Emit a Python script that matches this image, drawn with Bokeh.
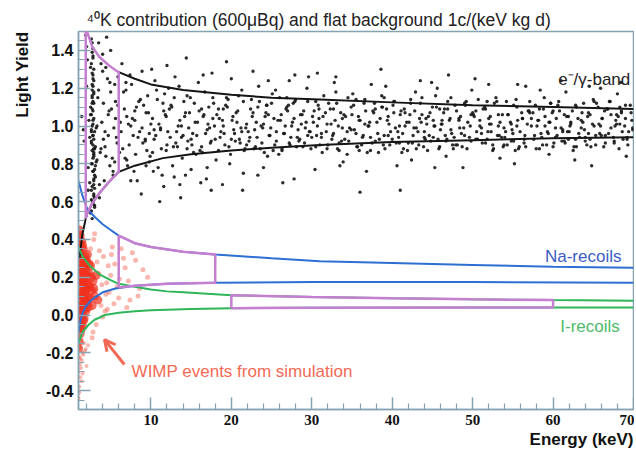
from bokeh.plotting import figure
from bokeh.models import Range1d, FixedTicker, PrintfTickFormatter, Label, Arrow, OpenHead, Title
from bokeh.embed import file_html
from bokeh.resources import INLINE

# ---------------- data ----------------
x_ticks = [10, 20, 30, 40, 50, 60, 70]
x_minor = [2, 4, 6, 8, 12, 14, 16, 18, 22, 24, 26, 28, 32, 34, 36, 38, 42, 44, 46, 48,
           52, 54, 56, 58, 62, 64, 66, 68]
y_ticks = [-0.4, -0.2, 0.0, 0.2, 0.4, 0.6, 0.8, 1.0, 1.2, 1.4]
y_minor = [-0.45, -0.35, -0.3, -0.25, -0.15, -0.1, -0.05, 0.05, 0.1, 0.15, 0.25, 0.3, 0.35,
           0.45, 0.5, 0.55, 0.65, 0.7, 0.75, 0.85, 0.9, 0.95, 1.05, 1.1, 1.15, 1.25, 1.3,
           1.35, 1.45]

# black points: 3 keV line (40K)
streak_x = [2.6, 2.8, 2.9, 2.7, 3.0, 2.5, 2.8, 2.9, 2.6, 3.1, 2.7, 2.9, 2.8, 2.4, 3.0, 2.8, 2.7, 2.9, 2.6, 3.2,
            2.8, 2.9, 2.7, 2.5, 3.0, 2.8, 2.6, 2.9, 2.7, 3.1, 2.8, 2.4, 2.9, 2.7, 3.0, 2.6, 2.8, 2.9, 2.5, 3.3,
            2.7, 2.9, 2.8, 2.6, 3.0, 2.3, 2.8, 2.9, 2.7, 3.1, 2.6, 2.8, 3.0, 2.7, 2.9, 2.5, 2.8, 3.2, 2.6, 2.9,
            2.7, 2.8, 2.9, 2.6, 2.8, 3.0, 2.7, 2.9, 2.8, 2.6, 2.9, 2.7, 2.8, 3.0, 2.7, 2.8, 2.9, 2.6, 2.8, 2.7]
streak_y = [0.55, 0.83, 1.12, 0.68, 0.97, 1.31, 0.76, 1.04, 0.61, 0.89, 1.22, 0.72, 1.41, 0.94, 0.58, 1.08, 0.80, 1.17, 0.66, 0.99,
            1.27, 0.86, 0.51, 1.06, 0.74, 1.36, 0.92, 0.63, 1.15, 0.79, 1.01, 0.70, 1.24, 0.87, 0.57, 1.46, 0.95, 0.69, 1.10, 0.82,
            1.19, 0.64, 0.90, 1.33, 0.77, 1.03, 0.60, 0.85, 1.28, 0.73, 0.98, 1.13, 0.67, 1.39, 0.88, 0.54, 1.21, 0.81, 1.06, 0.93,
            1.00, 0.76, 1.18, 0.91, 1.37, 0.62, 1.09, 0.84, 1.25, 0.97, 0.71, 1.44, 1.03, 0.88, 1.16, 0.59, 1.30, 0.80, 0.95, 1.12]

# black points: low energy
low_x = [1.4, 1.7, 2.0, 2.2, 3.5, 3.8, 4.1, 4.4, 4.7, 5.0, 5.3, 5.6, 5.9, 3.6, 4.0, 4.3, 4.8, 5.2, 5.5, 5.8,
         3.4, 3.9, 4.5, 4.9, 5.4, 2.1, 1.9, 3.7, 4.2, 4.6, 5.1, 5.7, 3.3, 4.0, 4.4, 5.0, 5.6, 1.6, 2.2, 3.5,
         4.1, 4.7, 5.3, 5.9, 3.8, 4.3, 4.9, 5.5, 2.0, 3.6]
low_y = [1.05, 0.92, 1.21, 0.78, 1.44, 0.88, 1.12, 1.31, 0.95, 1.18, 0.74, 1.04, 1.26, 0.69, 1.38, 0.97, 1.08, 0.83, 1.22, 0.91,
         1.15, 1.02, 1.47, 0.79, 0.99, 1.35, 1.48, 0.86, 0.71, 1.25, 1.09, 0.94, 1.00, 1.29, 0.84, 1.40, 1.13, 0.98, 0.66, 1.19,
         0.93, 1.06, 0.76, 1.11, 1.33, 0.89, 1.23, 0.81, 1.42, 0.62]

# black points: e/gamma band 6-70 keV (wide)
band_x = [6.2, 6.5, 6.9, 7.1, 7.4, 7.8, 8.0, 8.3, 8.7, 9.0, 6.4, 6.8, 7.2, 7.6, 7.9, 8.2, 8.6, 8.9, 6.1, 7.0,
          9.3, 9.6, 9.9, 10.2, 10.5, 10.9, 11.2, 11.5, 11.9, 12.2, 9.4, 9.8, 10.1, 10.6, 11.0, 11.4, 11.7, 12.0, 12.3, 10.4,
          12.5, 12.8, 13.2, 13.5, 13.9, 14.2, 14.6, 14.9, 15.3, 15.5, 12.7, 13.0, 13.4, 13.8, 14.1, 14.5, 14.8, 15.2, 13.6, 14.4,
          15.7, 16.0, 16.4, 16.7, 17.1, 17.4, 17.8, 18.1, 18.5, 18.7, 15.9, 16.3, 16.6, 17.0, 17.3, 17.7, 18.0, 18.4, 16.9, 17.6,
          18.9, 19.2, 19.6, 19.9, 20.3, 20.6, 21.0, 21.3, 21.7, 21.9, 19.1, 19.5, 19.8, 20.2, 20.5, 20.9, 21.2, 21.6, 20.0, 21.4,
          22.1, 22.4, 22.8, 23.1, 23.5, 23.8, 24.2, 24.5, 24.9, 25.1, 22.3, 22.7, 23.0, 23.4, 23.7, 24.1, 24.4, 24.8, 23.3, 24.6,
          25.3, 25.6, 26.0, 26.3, 26.7, 27.0, 27.4, 27.7, 28.1, 28.3, 25.5, 25.9, 26.2, 26.6, 26.9, 27.3, 27.6, 28.0, 26.4, 27.9,
          28.5, 28.8, 29.2, 29.5, 29.9, 30.2, 30.6, 30.9, 31.3, 31.5, 28.7, 29.1, 29.4, 29.8, 30.1, 30.5, 30.8, 31.2, 29.6, 30.4,
          31.7, 32.0, 32.4, 32.7, 33.1, 33.4, 33.8, 34.1, 34.5, 34.7, 31.9, 32.3, 32.6, 33.0, 33.3, 33.7, 34.0, 34.4, 32.8, 33.9,
          34.9, 35.2, 35.6, 35.9, 36.3, 36.6, 37.0, 37.3, 37.7, 37.9, 35.1, 35.5, 35.8, 36.2, 36.5, 36.9, 37.2, 37.6, 36.0, 37.4,
          38.1, 38.4, 38.8, 39.1, 39.5, 39.8, 40.2, 40.5, 40.9, 41.1, 38.3, 38.7, 39.0, 39.4, 39.7, 40.1, 40.4, 40.8, 39.2, 40.6,
          41.3, 41.6, 42.0, 42.3, 42.7, 43.0, 43.4, 43.7, 44.1, 44.3, 41.5, 41.9, 42.2, 42.6, 42.9, 43.3, 43.6, 44.0, 42.4, 43.5,
          44.5, 44.8, 45.2, 45.5, 45.9, 46.2, 46.6, 46.9, 47.3, 47.5, 44.7, 45.1, 45.4, 45.8, 46.1, 46.5, 46.8, 47.2, 45.6, 46.7,
          47.7, 48.0, 48.4, 48.7, 49.1, 49.4, 49.8, 50.1, 50.5, 50.7, 47.9, 48.3, 48.6, 49.0, 49.3, 49.7, 50.0, 50.4, 48.8, 49.9,
          50.9, 51.2, 51.6, 51.9, 52.3, 52.6, 53.0, 53.3, 53.7, 53.9, 51.1, 51.5, 51.8, 52.2, 52.5, 52.9, 53.2, 53.6, 52.0, 53.4,
          54.1, 54.4, 54.8, 55.1, 55.5, 55.8, 56.2, 56.5, 56.9, 57.1, 54.3, 54.7, 55.0, 55.4, 55.7, 56.1, 56.4, 56.8, 55.2, 56.6,
          57.3, 57.6, 58.0, 58.3, 58.7, 59.0, 59.4, 59.7, 60.1, 60.3, 57.5, 57.9, 58.2, 58.6, 58.9, 59.3, 59.6, 60.0, 58.4, 59.5,
          60.5, 60.8, 61.2, 61.5, 61.9, 62.2, 62.6, 62.9, 63.3, 63.5, 60.7, 61.1, 61.4, 61.8, 62.1, 62.5, 62.8, 63.2, 61.6, 62.7,
          63.7, 64.0, 64.4, 64.7, 65.1, 65.4, 65.8, 66.1, 66.5, 66.7, 63.9, 64.3, 64.6, 65.0, 65.3, 65.7, 66.0, 66.4, 64.8, 65.9,
          66.9, 67.2, 67.6, 67.9, 68.3, 68.6, 69.0, 69.3, 69.7, 69.9, 67.1, 67.5, 67.8, 68.2, 68.5, 68.9, 69.2, 69.6, 68.0, 69.1]
band_y = [1.02, 0.88, 1.19, 0.79, 1.27, 0.95, 1.08, 0.71, 1.14, 0.91, 1.33, 0.83, 1.01, 1.22, 0.76, 1.10, 0.97, 1.29, 0.86, 1.05,
          0.93, 1.16, 0.84, 1.04, 1.24, 0.78, 0.99, 1.12, 0.87, 1.20, 1.07, 0.81, 1.30, 0.95, 1.01, 0.74, 1.17, 0.90, 1.09, 0.98,
          1.11, 0.89, 0.97, 1.21, 0.83, 1.05, 0.92, 1.15, 0.86, 1.02, 0.79, 1.26, 1.00, 0.94, 1.13, 0.88, 1.07, 0.96, 0.69, 1.36,
          0.95, 1.08, 0.86, 1.18, 1.01, 0.91, 1.12, 0.82, 1.04, 0.97, 1.23, 0.89, 1.06, 0.78, 0.99, 1.15, 0.93, 1.09, 0.72, 1.28,
          1.03, 0.90, 1.14, 0.85, 0.98, 1.07, 0.93, 1.19, 0.88, 1.01, 0.96, 1.10, 0.80, 1.05, 0.92, 1.16, 0.99, 0.87, 1.25, 0.66,
          0.97, 1.09, 0.88, 1.02, 1.13, 0.91, 1.05, 0.84, 0.99, 1.17, 0.94, 1.07, 0.89, 1.21, 1.00, 0.86, 1.11, 0.95, 0.74, 1.24,
          1.04, 0.92, 1.15, 0.87, 1.00, 1.08, 0.94, 1.12, 0.89, 0.98, 1.19, 0.85, 1.06, 0.96, 1.10, 0.90, 1.02, 1.14, 0.70, 1.27,
          0.93, 1.06, 0.99, 1.13, 0.88, 1.02, 0.95, 1.09, 0.86, 1.16, 1.01, 0.91, 1.20, 0.97, 1.05, 0.89, 1.11, 0.94, 1.26, 0.77,
          1.07, 0.90, 1.01, 0.96, 1.12, 0.87, 1.04, 0.93, 1.15, 0.99, 0.88, 1.09, 0.95, 1.18, 1.00, 0.92, 1.06, 0.85, 1.23, 0.81,
          0.98, 1.11, 0.89, 1.03, 0.94, 1.14, 1.00, 0.87, 1.07, 0.92, 1.17, 0.96, 1.05, 0.90, 1.12, 0.86, 1.02, 1.08, 0.65, 1.22,
          1.02, 0.93, 1.10, 0.88, 1.05, 0.97, 1.13, 0.91, 1.00, 1.08, 0.86, 1.16, 0.95, 1.03, 0.90, 1.11, 0.99, 0.94, 1.21, 0.79,
          0.96, 1.07, 0.91, 1.12, 0.99, 0.88, 1.04, 1.15, 0.93, 1.01, 1.09, 0.87, 1.06, 0.95, 1.18, 0.90, 1.02, 0.97, 0.82, 1.24,
          1.05, 0.92, 1.00, 1.10, 0.89, 1.03, 0.95, 1.13, 0.98, 0.90, 1.07, 0.94, 1.16, 0.88, 1.01, 1.09, 0.93, 1.04, 1.20, 0.84,
          0.94, 1.08, 0.99, 0.89, 1.11, 1.02, 0.92, 1.06, 0.97, 1.14, 0.90, 1.03, 0.96, 1.12, 0.88, 1.00, 1.07, 0.93, 0.78, 1.19,
          1.03, 0.91, 1.09, 0.97, 1.01, 0.88, 1.13, 0.95, 1.06, 0.90, 0.99, 1.10, 0.93, 1.05, 0.87, 1.15, 1.00, 0.94, 1.22, 0.83,
          0.97, 1.06, 0.92, 1.11, 1.00, 0.89, 1.04, 0.95, 1.08, 1.13, 0.90, 1.02, 0.96, 1.14, 0.88, 1.07, 0.93, 1.01, 0.80, 1.21,
          1.04, 0.93, 1.00, 1.09, 0.90, 1.05, 0.96, 1.12, 0.91, 0.99, 1.07, 0.88, 1.03, 0.94, 1.15, 0.97, 1.02, 0.89, 1.19, 0.85,
          0.95, 1.08, 0.98, 0.91, 1.05, 1.01, 0.89, 1.10, 0.94, 1.03, 1.13, 0.92, 1.06, 0.97, 1.00, 0.87, 1.11, 0.96, 1.18, 0.82,
          1.02, 0.94, 1.07, 0.89, 1.00, 1.12, 0.96, 1.04, 0.91, 1.09, 0.98, 1.05, 0.93, 1.14, 0.90, 1.01, 0.95, 1.08, 0.79, 1.20,
          0.96, 1.06, 0.92, 1.01, 1.10, 0.97, 1.04, 0.90, 1.07, 0.99, 1.13, 0.94, 1.03, 0.88, 1.08, 1.00, 0.93, 1.11, 1.17, 0.84]

# black points: e/gamma band core 6-70 keV
core_x = [6.3, 6.7, 7.3, 7.7, 8.1, 8.5, 8.9, 9.3, 9.7, 6.6, 7.0, 7.5, 8.4, 9.1, 9.5, 6.9, 8.0, 9.8,
          10.0, 10.4, 10.8, 11.3, 11.8, 12.1, 12.6, 13.1, 13.6, 10.2, 10.7, 11.2, 11.6, 12.4, 12.9, 13.3, 13.8, 11.9,
          14.0, 14.3, 14.7, 15.1, 15.4, 15.8, 16.1, 16.5, 16.8, 17.2, 17.5, 17.9, 14.5, 15.6, 16.3, 17.0, 17.7, 15.0,
          18.2, 18.6, 19.0, 19.3, 19.7, 20.1, 20.4, 20.8, 21.1, 21.5, 21.8, 18.4, 19.4, 20.0, 20.7, 21.3, 19.0, 21.9,
          22.2, 22.6, 22.9, 23.3, 23.6, 24.0, 24.3, 24.7, 25.0, 25.4, 25.8, 22.5, 23.2, 23.9, 24.6, 25.2, 25.6, 24.4,
          26.1, 26.5, 26.8, 27.2, 27.5, 27.9, 28.2, 28.6, 28.9, 29.3, 29.7, 26.3, 27.1, 27.8, 28.4, 29.0, 29.5, 26.9,
          30.0, 30.3, 30.7, 31.0, 31.4, 31.8, 32.1, 32.5, 32.9, 33.2, 33.6, 30.5, 31.2, 31.9, 32.7, 33.4, 33.8, 30.9,
          34.2, 34.6, 34.9, 35.3, 35.7, 36.0, 36.4, 36.7, 37.1, 37.5, 37.8, 34.4, 35.0, 35.9, 36.6, 37.3, 37.9, 35.5,
          38.2, 38.5, 38.9, 39.3, 39.6, 40.0, 40.3, 40.7, 41.0, 41.4, 41.8, 38.7, 39.5, 40.2, 40.9, 41.6, 39.0, 41.2,
          42.1, 42.5, 42.8, 43.2, 43.5, 43.9, 44.2, 44.6, 45.0, 45.3, 45.7, 42.3, 43.0, 43.7, 44.4, 45.1, 45.9, 44.0,
          46.0, 46.4, 46.7, 47.1, 47.4, 47.8, 48.1, 48.5, 48.9, 49.2, 49.6, 46.2, 46.9, 47.6, 48.3, 49.0, 49.8, 47.3,
          50.2, 50.6, 50.9, 51.3, 51.6, 52.0, 52.3, 52.7, 53.1, 53.4, 53.8, 50.4, 51.1, 51.8, 52.5, 53.2, 53.9, 52.1,
          54.0, 54.4, 54.8, 55.1, 55.5, 55.9, 56.2, 56.6, 57.0, 57.3, 57.7, 54.2, 54.9, 55.6, 56.4, 57.1, 57.8, 55.3,
          58.1, 58.5, 58.8, 59.2, 59.5, 59.9, 60.3, 60.6, 61.0, 61.4, 61.7, 58.3, 59.0, 59.7, 60.4, 61.2, 61.9, 60.0,
          62.0, 62.4, 62.8, 63.1, 63.5, 63.8, 64.2, 64.6, 64.9, 65.3, 65.6, 62.2, 62.9, 63.6, 64.4, 65.1, 65.9, 64.0,
          66.1, 66.5, 66.8, 67.2, 67.6, 67.9, 68.3, 68.7, 69.0, 69.4, 69.8, 66.3, 67.0, 67.7, 68.5, 69.2, 69.9, 68.1]
core_y = [0.97, 1.09, 0.90, 1.04, 0.85, 1.13, 0.99, 0.92, 1.07, 1.18, 0.82, 1.00, 0.94, 1.11, 0.87, 1.23, 1.03, 0.96,
          1.01, 0.93, 1.14, 0.88, 1.06, 0.97, 1.10, 0.91, 1.03, 0.86, 1.19, 0.98, 1.08, 0.94, 1.15, 0.89, 1.00, 1.05,
          0.95, 1.07, 0.99, 0.90, 1.12, 1.02, 0.87, 1.05, 0.96, 1.10, 0.92, 1.00, 1.16, 0.85, 1.09, 0.98, 1.04, 0.93,
          1.06, 0.94, 1.00, 1.11, 0.89, 1.03, 0.96, 1.08, 0.91, 1.13, 0.99, 0.87, 1.15, 0.93, 1.02, 0.97, 1.09, 0.90,
          0.92, 1.05, 0.98, 1.10, 0.88, 1.01, 1.07, 0.95, 1.12, 0.90, 1.03, 1.14, 0.94, 0.99, 1.06, 0.87, 0.97, 1.11,
          1.03, 0.96, 1.09, 0.91, 1.00, 1.13, 0.94, 1.06, 0.89, 1.02, 0.97, 0.88, 1.11, 1.04, 0.92, 1.08, 0.95, 1.15,
          0.94, 1.08, 1.00, 0.90, 1.05, 0.97, 1.12, 0.93, 1.03, 0.88, 1.07, 1.13, 0.96, 1.01, 1.09, 0.91, 0.99, 1.04,
          1.05, 0.92, 1.10, 0.98, 0.89, 1.03, 0.95, 1.08, 1.00, 0.91, 1.12, 0.97, 1.06, 0.87, 1.01, 0.94, 1.09, 1.14,
          0.96, 1.04, 0.90, 1.09, 1.01, 0.93, 1.13, 0.97, 1.06, 0.88, 1.02, 1.10, 0.95, 1.07, 0.91, 1.00, 1.15, 0.86,
          1.02, 0.91, 1.08, 0.97, 1.12, 0.89, 1.04, 0.95, 1.10, 1.00, 0.93, 1.14, 0.99, 1.06, 0.87, 1.03, 1.09, 0.94,
          0.98, 1.07, 0.92, 1.03, 0.96, 1.11, 0.90, 1.05, 0.99, 1.13, 0.94, 1.01, 1.09, 0.88, 1.04, 0.95, 1.06, 1.15,
          1.05, 0.93, 1.00, 1.09, 0.91, 1.04, 0.97, 1.12, 0.95, 1.02, 0.89, 1.08, 0.96, 1.13, 0.90, 1.06, 0.99, 1.01,
          0.94, 1.06, 1.01, 0.92, 1.10, 0.97, 1.04, 0.89, 1.08, 1.00, 0.95, 1.13, 0.98, 1.03, 0.91, 1.07, 1.11, 0.87,
          1.03, 0.96, 1.09, 0.90, 1.02, 1.07, 0.94, 1.11, 0.99, 0.92, 1.05, 0.88, 1.00, 1.12, 1.04, 0.97, 0.93, 1.08,
          0.97, 1.08, 0.93, 1.04, 0.99, 1.12, 0.90, 1.06, 1.01, 0.95, 1.10, 1.02, 0.89, 1.07, 0.96, 1.13, 1.00, 0.92,
          1.04, 0.95, 1.09, 0.99, 0.91, 1.06, 1.01, 0.93, 1.11, 0.97, 1.03, 0.89, 1.13, 1.00, 1.07, 0.94, 0.98, 1.05]

# black outliers below and above the band
below_x = [7.5, 8.8, 10.3, 11.6, 12.9, 13.7, 15.0, 16.2, 17.5, 9.4, 11.1, 14.3, 18.9, 21.5, 24.0, 27.8, 33.5, 36.8, 41.0, 45.3]
below_y = [0.71, 0.64, 0.76, 0.68, 0.73, 0.62, 0.77, 0.70, 0.66, 0.79, 0.60, 0.74, 0.69, 0.75, 0.78, 0.72, 0.79, 0.76, 0.66, 0.78]
above_x = [12.0, 16.5, 22.7, 27.2, 33.0, 38.6, 44.9, 50.3, 55.6, 61.0, 64.5, 68.4, 19.4, 30.7, 47.0]
above_y = [1.32, 1.27, 1.29, 1.24, 1.26, 1.30, 1.23, 1.25, 1.22, 1.24, 1.21, 1.23, 1.34, 1.28, 1.27]

# red WIMP points
wimp_core_x = [1.1, 1.3, 1.5, 1.2, 1.7, 1.4, 1.9, 1.1, 1.6, 2.2, 1.3, 1.8, 1.0, 2.0, 1.5, 1.2, 2.4, 1.7, 1.4, 1.1,
               1.9, 1.3, 2.1, 1.6, 1.0, 1.8, 2.3, 1.2, 1.5, 2.6, 1.4, 1.1, 2.0, 1.7, 1.3, 2.2, 1.6, 1.0, 1.9, 2.5,
               1.2, 1.5, 2.8, 1.8, 1.1, 1.4, 2.1, 1.6, 3.0, 1.3, 1.7, 1.0, 2.4, 1.5, 1.9, 1.2, 2.7, 1.4, 2.0, 1.1,
               1.8, 3.2, 1.3, 1.6, 2.3, 1.0, 1.5, 2.9, 1.2, 1.7, 2.1, 1.4, 3.4, 1.1, 1.9, 2.6, 1.3, 1.6, 2.2, 1.0]
wimp_core_y = [0.21, 0.05, 0.30, -0.04, 0.14, 0.25, 0.02, 0.38, 0.18, 0.09, -0.08, 0.27, 0.12, 0.20, 0.00, 0.33, 0.15, -0.02, 0.10, -0.14,
               0.24, 0.17, 0.06, 0.35, 0.28, 0.11, 0.22, 0.42, -0.06, 0.13, 0.19, 0.07, 0.29, 0.03, 0.36, 0.16, 0.23, -0.18, 0.08, 0.26,
               -0.10, 0.12, 0.18, 0.31, 0.45, 0.04, 0.21, -0.03, 0.10, 0.26, 0.20, 0.33, 0.09, 0.16, 0.28, 0.01, 0.05, 0.39, 0.14, 0.24,
               0.17, 0.21, 0.11, 0.06, 0.27, 0.02, 0.37, 0.14, 0.19, 0.09, 0.32, -0.01, 0.08, 0.30, 0.13, 0.20, -0.07, 0.24, 0.04, 0.41]
wimp_out_x = [3.5, 4.1, 4.8, 5.5, 6.3, 7.2, 8.1, 9.0, 3.8, 4.5, 5.2, 6.0, 6.8, 7.7, 8.6, 9.6, 3.2, 4.3, 5.0, 5.8,
              6.6, 7.4, 3.6, 4.0, 4.7, 5.4, 6.1, 2.9, 3.3, 4.4, 5.1, 2.7, 3.0, 3.9, 4.6, 2.5, 2.8, 3.1, 7.0, 8.4]
wimp_out_y = [0.22, 0.31, 0.12, 0.27, 0.35, 0.18, 0.29, 0.24, 0.05, 0.17, 0.36, 0.09, 0.25, 0.33, 0.14, 0.20, -0.05, 0.02, 0.21, 0.15,
              0.30, 0.08, 0.34, -0.01, 0.26, 0.06, 0.19, 0.40, 0.28, 0.11, 0.32, -0.12, 0.43, 0.16, 0.03, 0.35, -0.09, 0.13, 0.04, 0.10]
wimp_tail_x = [1.1, 1.3, 1.0, 1.5, 1.2, 1.7, 1.1, 1.4, 1.9, 1.2, 1.0, 1.6, 1.3, 2.2, 1.1, 1.8, 1.4, 1.2, 2.0, 1.5]
wimp_tail_y = [-0.22, -0.17, -0.30, -0.20, -0.26, -0.15, -0.38, -0.24, -0.18, -0.33, -0.44, -0.21, -0.28, -0.16, -0.41, -0.19, -0.35, -0.23, -0.27, -0.31]

# band boundary curves
eg_up_x = [6, 8, 10, 14, 20, 25, 31, 40, 50, 60, 70]
eg_up_y = [1.285, 1.25, 1.22, 1.19, 1.165, 1.15, 1.14, 1.125, 1.11, 1.10, 1.09]
eg_lo_x = [1.1, 1.5, 1.9, 2.1, 2.7, 3.6, 4.8, 6, 8, 11.5, 15, 20, 25, 31, 40, 50, 60, 70]
eg_lo_y = [0.30, 0.43, 0.51, 0.54, 0.59, 0.645, 0.705, 0.757, 0.79, 0.83, 0.85, 0.87, 0.885, 0.90, 0.915, 0.925, 0.935, 0.94]
na_up_x = [1.0, 1.5, 2.1, 3.0, 4.0, 5.0, 6, 8, 10, 14, 18, 25, 31, 40, 50, 60, 70]
na_up_y = [0.71, 0.63, 0.56, 0.52, 0.48, 0.45, 0.42, 0.38, 0.36, 0.335, 0.32, 0.30, 0.285, 0.275, 0.265, 0.255, 0.25]
na_lo_x = [1.0, 1.2, 1.5, 1.9, 2.5, 3.1, 4.0, 5.6, 8, 12, 18, 30, 50, 70]
na_lo_y = [-0.09, -0.04, 0.01, 0.045, 0.075, 0.095, 0.12, 0.14, 0.155, 0.165, 0.17, 0.175, 0.175, 0.17]
i_up_x = [1.0, 1.5, 2.3, 3.6, 5, 6, 8, 10, 12, 14, 20, 30, 40, 50, 60, 70]
i_up_y = [0.36, 0.31, 0.265, 0.215, 0.185, 0.165, 0.15, 0.135, 0.125, 0.12, 0.105, 0.095, 0.088, 0.083, 0.079, 0.076]
i_lo_x = [1.0, 1.5, 2.3, 3.0, 4.3, 6, 8, 10, 15, 20, 30, 50, 70]
i_lo_y = [-0.15, -0.09, -0.05, -0.025, 0.0, 0.012, 0.02, 0.025, 0.032, 0.036, 0.038, 0.04, 0.04]

# acceptance boxes
box_eg_x = [1.9, 1.9, 2.7, 3.6, 4.8, 5.6, 6.0, 6.0, 4.8, 3.6, 2.7, 2.1, 1.9]
box_eg_y = [0.51, 1.52, 1.42, 1.365, 1.32, 1.295, 1.285, 0.757, 0.705, 0.645, 0.59, 0.54, 0.51]
box_na_x = [6, 6, 8, 10, 14, 18, 18, 12, 8, 6]
box_na_y = [0.145, 0.42, 0.38, 0.36, 0.335, 0.32, 0.17, 0.165, 0.155, 0.145]
box_i_x = [20, 20, 30, 40, 50, 60, 60, 50, 30, 20]
box_i_y = [0.036, 0.105, 0.095, 0.088, 0.083, 0.079, 0.04, 0.04, 0.038, 0.036]

# ---------------- styles ----------------
AX = "#86a3b3"
BLACK = "#151515"
BLUE = "#2e6fd4"
GREEN = "#2fb65a"
PURPLE = "#c47fd0"
RED = "#f0301e"
SALMON = "#f26a55"

p = figure(width=634, height=450, x_range=Range1d(1, 70), y_range=Range1d(-0.5, 1.5),
           output_backend="svg", toolbar_location=None, title=None,
           min_border_left=77, min_border_right=1, min_border_top=31, min_border_bottom=41)
p.background_fill_color = "white"
p.border_fill_color = "white"
p.outline_line_color = AX
p.outline_line_width = 1.5
p.xgrid.visible = False
p.ygrid.visible = False

p.xaxis.ticker = FixedTicker(ticks=x_ticks, minor_ticks=x_minor)
p.yaxis.ticker = FixedTicker(ticks=y_ticks, minor_ticks=y_minor)
p.yaxis.formatter = PrintfTickFormatter(format="%.1f")
for ax in (p.xaxis, p.yaxis):
    ax.axis_line_color = AX
    ax.axis_line_width = 1.5
    ax.major_tick_line_color = AX
    ax.minor_tick_line_color = AX
    ax.major_tick_line_width = 1.5
    ax.minor_tick_line_width = 1.2
    ax.major_tick_in = 12
    ax.major_tick_out = 0
    ax.minor_tick_in = 6
    ax.minor_tick_out = 0
    ax.major_label_text_color = "#111111"
    ax.major_label_text_font_style = "bold"
p.xaxis.major_label_text_font = "Liberation Serif"
p.xaxis.major_label_text_font_size = "15px"
p.xaxis.major_label_standoff = 5
p.yaxis.major_label_text_font = "Liberation Sans"
p.yaxis.major_label_text_font_size = "16px"
p.yaxis.major_label_standoff = 5

# titles / axis titles as panel titles (not clipped)
p.add_layout(Title(text="\u2074\u2070K contribution (600\u03bcBq) and flat background 1c/(keV kg d)",
                   align="left", offset=8, standoff=4, text_font="Liberation Sans",
                   text_font_size="17.5px", text_font_style="normal", text_color="#222222"), "above")
p.add_layout(Title(text="Light Yield", align="right", standoff=21, text_font="Liberation Sans",
                   text_font_size="17px", text_font_style="bold", text_color="#111111"), "left")
p.add_layout(Title(text="Energy (keV)", align="right", standoff=0, text_font="Liberation Sans",
                   text_font_size="17px", text_font_style="bold", text_color="#111111"), "below")

# scatter
p.scatter(wimp_tail_x, wimp_tail_y, size=4, color=RED, alpha=0.35, line_alpha=0)
p.scatter(wimp_out_x, wimp_out_y, size=5, color=RED, alpha=0.35, line_alpha=0)
p.scatter(wimp_core_x, wimp_core_y, size=9, color=RED, alpha=0.7, line_alpha=0)
for xs, ys in ((streak_x, streak_y), (low_x, low_y), (band_x, band_y), (core_x, core_y),
               (below_x, below_y), (above_x, above_y)):
    p.scatter(xs, ys, size=3.4, color=BLACK, alpha=0.9, line_alpha=0)

# curves
p.line(eg_up_x, eg_up_y, line_color=BLACK, line_width=2)
p.line(eg_lo_x, eg_lo_y, line_color=BLACK, line_width=2)
p.line(na_up_x, na_up_y, line_color=BLUE, line_width=2)
p.line(na_lo_x, na_lo_y, line_color=BLUE, line_width=2)
p.line(i_up_x, i_up_y, line_color=GREEN, line_width=2)
p.line(i_lo_x, i_lo_y, line_color=GREEN, line_width=2)

# boxes
for bx, by in ((box_eg_x, box_eg_y), (box_na_x, box_na_y), (box_i_x, box_i_y)):
    p.line(bx, by, line_color=PURPLE, line_width=2.5)

# in-frame texts
def lab(**kw):
    base = dict(text_font="Liberation Sans", text_font_size="17px", text_baseline="middle")
    base.update(kw)
    p.add_layout(Label(**base))

lab(x=69.6, y=1.246, text="e\u207b/\u03b3-band", text_align="right", text_color="#222222")
lab(x=68.5, y=0.31, text="Na-recoils", text_align="right", text_color="#3b5cc4")
lab(x=68.3, y=-0.06, text="I-recoils", text_align="right", text_color="#4cbb6a")
lab(x=7.6, y=-0.30, text="WIMP events from simulation", text_align="left", text_color=SALMON)

p.add_layout(Arrow(end=OpenHead(size=11, line_color=SALMON, line_width=3),
                   x_start=6.7, y_start=-0.262, x_end=4.23, y_end=-0.13,
                   line_color=SALMON, line_width=3))

open("out.html", "w").write(file_html(p, INLINE))
